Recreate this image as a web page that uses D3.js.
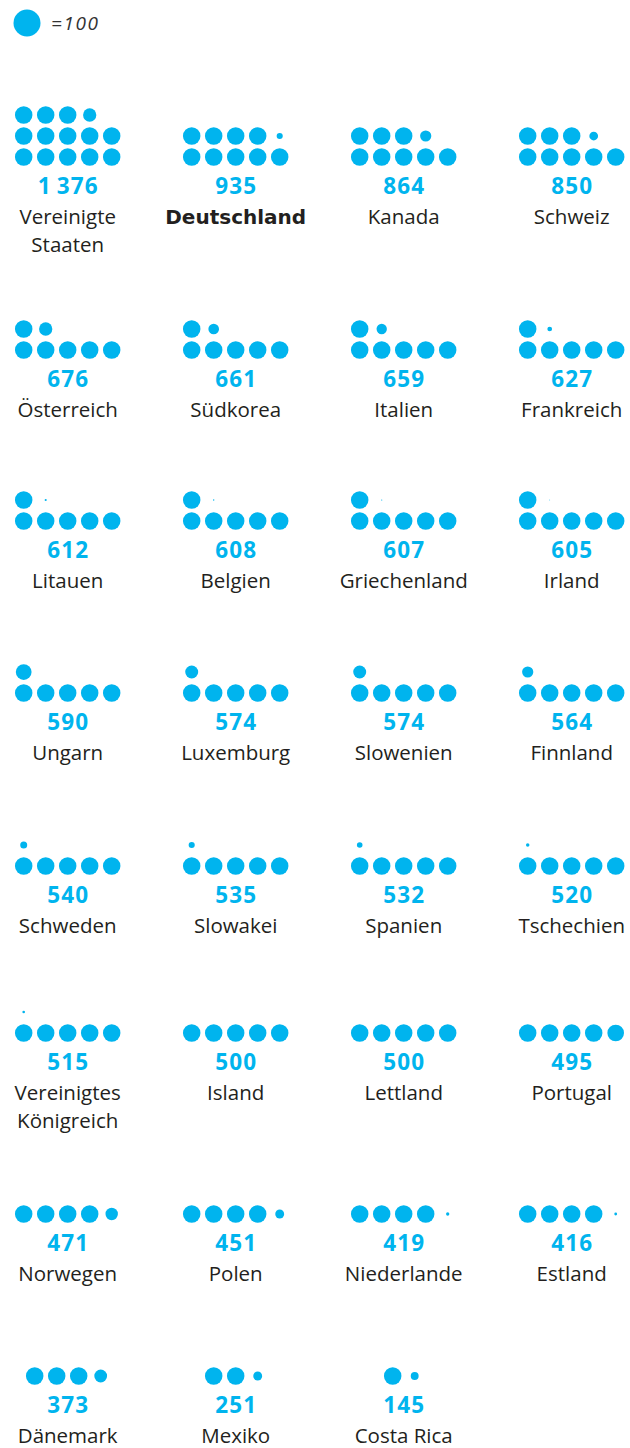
<!DOCTYPE html>
<html lang="de">
<head>
<meta charset="utf-8">
<title>Punkte je Land</title>
<script src="https://cdn.jsdelivr.net/npm/d3@7"></script>
<style>
  html, body { margin: 0; padding: 0; background: #fff; }
  svg { display: block; }
</style>
</head>
<body>
<svg id="chart" width="630" height="1448"></svg>
<script>
// Countries in reading order (4 per row) and their values; one full dot = 100
const countries = [
  "Vereinigte Staaten", "Deutschland", "Kanada", "Schweiz",
  "Österreich", "Südkorea", "Italien", "Frankreich",
  "Litauen", "Belgien", "Griechenland", "Irland",
  "Ungarn", "Luxemburg", "Slowenien", "Finnland",
  "Schweden", "Slowakei", "Spanien", "Tschechien",
  "Vereinigtes Königreich", "Island", "Lettland", "Portugal",
  "Norwegen", "Polen", "Niederlande", "Estland",
  "Dänemark", "Mexiko", "Costa Rica"
];
const values = [
  1376, 935, 864, 850,
  676, 661, 659, 627,
  612, 608, 607, 605,
  590, 574, 574, 564,
  540, 535, 532, 520,
  515, 500, 500, 495,
  471, 451, 419, 416,
  373, 251, 145
];
const highlighted = ["Deutschland"];
const unit = 100;
const legendLabel = "=100";

// ---- layout ----
const nCols = 4;
const perRow = 5;             // dots per line inside a cell
const dotR = 8.75;            // radius of a full dot
const dotStepX = 22, dotStepY = 21;
const rowBase = [157, 350, 521, 693, 866, 1033, 1214, 1376]; // y of lowest dot line per grid row
const blue = "#00b4ee";
const ink = "#231f20";

const svg = d3.select("#chart");

const colX = d3.scalePoint().domain(d3.range(nCols)).range([67.7, 571.7]);
const rowY = d3.scaleOrdinal().domain(d3.range(rowBase.length)).range(rowBase);
// radius grows linearly with the share of one unit
const rScale = d3.scaleLinear().domain([0, unit]).range([0, dotR]);

const fmt = d3.formatLocale({ decimal: ",", thousands: "\u2009", grouping: [3], currency: ["", "€"] }).format(",d");

const data = countries.map((name, i) => ({
  name, value: values[i], col: i % nCols, row: Math.floor(i / nCols)
}));

// split a value into dot slots: bottom lines are filled first, the remainder sits on top
function slotsOf(v) {
  const full = Math.floor(v / unit);
  const rest = v - full * unit;
  const parts = d3.range(full).map(() => unit);
  if (rest > 0) parts.push(rest);
  const lines = Math.ceil(parts.length / perRow);
  const shift = lines === 1 ? (perRow - parts.length) * dotStepX / 2 : 0;
  return parts.map((p, k) => ({
    amount: p,
    dx: (k % perRow - (perRow - 1) / 2) * dotStepX + shift,
    dy: -Math.floor(k / perRow) * dotStepY
  }));
}

// legend
const legend = svg.append("g");
legend.append("circle").attr("cx", 27).attr("cy", 23).attr("r", 13.5).attr("fill", blue);
legend.append("text")
  .attr("x", 51).attr("y", 30)
  .attr("font-family", "'Open Sans', sans-serif")
  .attr("font-style", "italic")
  .attr("font-size", 19)
  .attr("letter-spacing", 1.6)
  .attr("fill", "#333")
  .text(legendLabel);

const cells = svg.selectAll("g.cell")
  .data(data)
  .join("g")
  .attr("class", "cell")
  .attr("transform", d => `translate(${colX(d.col)},${rowY(d.row)})`);

cells.selectAll("circle")
  .data(d => slotsOf(d.value))
  .join("circle")
  .attr("cx", s => s.dx)
  .attr("cy", s => s.dy)
  .attr("r", s => rScale(s.amount))
  .attr("fill", blue);

cells.append("text")
  .attr("class", "value")
  .attr("y", 37)
  .attr("text-anchor", "middle")
  .attr("font-family", "'Open Sans', sans-serif")
  .attr("font-weight", 700)
  .attr("font-size", 22.5)
  .attr("letter-spacing", 1.2)
  .attr("dx", 0.6)
  .attr("fill", blue)
  .text(d => fmt(d.value));

const names = cells.append("text")
  .attr("class", "name")
  .attr("y", 67)
  .attr("text-anchor", "middle")
  .attr("fill", ink)
  .attr("font-family", d => highlighted.includes(d.name) ? "'DejaVu Sans', sans-serif" : "'Open Sans', sans-serif")
  .attr("font-weight", d => highlighted.includes(d.name) ? 700 : 400)
  .attr("font-size", d => highlighted.includes(d.name) ? 20 : 20.5);

// wrap long names onto a second line
names.each(function(d) {
  const t = d3.select(this);
  t.text(d.name);
  if (this.getComputedTextLength() > 150 && d.name.includes(" ")) {
    t.text(null);
    d.name.split(" ").forEach((w, k) => {
      t.append("tspan").attr("x", 0).attr("dy", k === 0 ? 0 : 27.5).text(w);
    });
  }
});
</script>
</body>
</html>
